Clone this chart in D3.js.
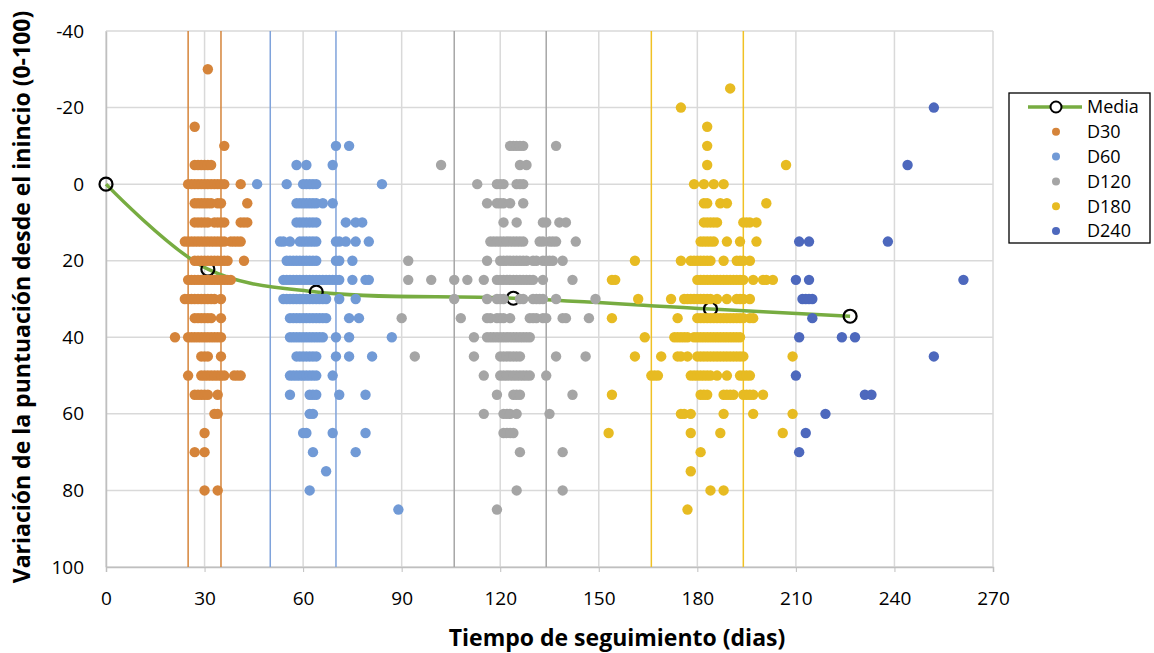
<!DOCTYPE html>
<html><head><meta charset="utf-8">
<script src="https://cdn.jsdelivr.net/npm/d3@7"></script>
<style>body{margin:0;background:#fff}svg{display:block}</style>
</head><body>
<svg id="c" width="1154" height="653"></svg>
<script>
// ---- data ----
const xTicks = [0,30,60,90,120,150,180,210,240,270];
const yTicks = [-40,-20,0,20,40,60,80,100];
const seriesNames = ["D30","D60","D120","D180","D240"];
const mediaDays = [0,31,64,124,184,226.5];
const mediaValues = [0,22.2,28.2,29.8,32.6,34.5];
const windowD30 = [25,35];
const windowD60 = [50,70];
const windowD120 = [106,134];
const windowD180 = [166,194];
// rows: [value, [days...]]
const d30 = [
 [-30,[31]],[-15,[27]],[-10,[36]],[-5,[27,28,29,30,31,32]],
 [0,[25,26,27,28,29,30,31,32,33,34,35,36,41]],
 [5,[27,28,29,30,31,32,34,35,43]],
 [10,[27,28,29,30,31,33,34,35,36,41,42,43]],
 [15,[24,25,26,27,28,29,30,31,32,33,34,35,36,38,39,40,41]],
 [20,[27,28,29,30,31,32,33,34,35,36,37,42]],
 [25,[25,26,27,28,29,30,31,32,33,34,35,36,37,38]],
 [30,[24,25,26,27,28,29,30,31,32,33,35]],
 [35,[27,28,29,30,31,32,35]],
 [40,[21,25,26,27,28,29,30,31,32,33,34,35]],
 [45,[29,30,31,35]],
 [50,[25,29,30,31,32,33,34,35,36,39,40,41]],
 [55,[27,28,29,30,31,34]],
 [60,[33,34]],[65,[30]],[70,[27,30]],[80,[30,34]]
];
const d60 = [
 [-10,[70,74]],[-5,[58,61,69]],
 [0,[46,55,60,61,62,63,64,84]],
 [5,[58,59,60,61,62,63,64,66,69]],
 [10,[58,59,60,61,62,63,64,73,76,78]],
 [15,[53,54,56,59,60,61,62,63,64,70,71,73,76,80]],
 [20,[55,56,57,58,59,60,61,62,63,64,70,71,75]],
 [25,[54,55,56,57,58,59,60,61,62,63,64,65,66,67,68,69,70,71,75,79,80]],
 [30,[54,55,56,57,58,59,60,61,62,63,64,65,66,67,71,76]],
 [35,[56,57,58,59,60,61,62,63,64,65,66,67,74,77]],
 [40,[56,57,58,59,60,61,62,63,64,65,66,70,74,87]],
 [45,[58,59,60,61,62,63,64,70,74,81]],
 [50,[56,57,58,59,60,61,62,63,64,69]],
 [55,[56,62,63,64,71,79]],
 [60,[62,63]],[65,[60,61,69,79]],[70,[63,76]],[75,[67]],[80,[62]],[85,[89]]
];
const d120 = [
 [-10,[123,124,125,126,127,137]],[-5,[102,126,128]],
 [0,[113,119,120,121,125,126,127]],
 [5,[116,119,120,121,123,127]],
 [10,[121,125,133,134,138,140]],
 [15,[117,118,119,120,121,122,123,124,125,126,127,132,133,135,136,137,143]],
 [20,[92,116,120,121,122,123,124,125,126,127,128,130,131,133,134,135,136,139]],
 [25,[92,99,106,110,115,119,120,121,122,123,124,125,126,127,128,129,130,133,142]],
 [30,[106,116,119,120,121,126,127,130,131,132,133,137,149]],
 [35,[90,108,116,117,119,120,121,123,129,130,131,133,134,139,140,147]],
 [40,[112,116,117,118,119,120,121,122,123,124,125,126,127,128,129]],
 [45,[94,112,120,121,122,123,124,125,126,137,146]],
 [50,[115,120,121,122,123,124,125,126,127,128,129,134]],
 [55,[119,124,125,126,142]],
 [60,[115,121,122,123,125,135]],
 [65,[121,122,123,124]],
 [70,[126,139]],[80,[125,139]],[85,[119]]
];
const d180 = [
 [-25,[190]],[-20,[175]],[-15,[183]],[-10,[183]],[-5,[183,207]],
 [0,[179,182,185,188]],
 [5,[182,183,187,189,201]],
 [10,[182,183,184,185,186,194,195,196,198]],
 [15,[181,182,183,184,185,189,193,198]],
 [20,[161,175,178,179,180,181,182,183,184,188,192,193,194,196]],
 [25,[154,155,180,181,182,183,184,185,186,187,188,189,190,191,192,193,194,197,200,201,203]],
 [30,[162,172,176,177,178,179,180,181,182,183,184,186,189,192,193,194,196]],
 [35,[154,174,180,181,182,183,184,185,186,187,188,189,190,191,192,193,194,196,197]],
 [40,[164,173,174,175,176,177,179,180,181,182,183,184,185,186,187,188,189,190,191,192,193]],
 [45,[161,169,174,175,177,180,181,182,183,184,185,186,187,188,189,190,191,192,193,194,209]],
 [50,[166,167,168,178,179,180,181,182,183,184,186,189,193,194,195,196]],
 [55,[154,181,182,183,188,189,190,191,194,195,196,197,200]],
 [60,[175,176,178,188,197,209]],
 [65,[153,178,187,206]],
 [70,[181]],[75,[178]],[80,[184,188]],[85,[177]]
];
const d240 = [
 [-20,[252]],[-5,[244]],[15,[211,214,238]],[25,[210,214,261]],
 [30,[212,213,214,215]],[35,[215]],[40,[211,224,228]],[45,[252]],
 [50,[210]],[55,[231,233]],[60,[219]],[65,[213]],[70,[211]]
];
const seriesRows = [d30,d60,d120,d180,d240];
const seriesColors = ["#d5843a","#719ad6","#a5a5a5","#e7bb22","#4d68bd"];
const windowColors = ["#d5843a","#7fa3db","#a6a6a6","#f0c124"];
const windows = [windowD30,windowD60,windowD120,windowD180];

// ---- layout ----
const svg = d3.select("#c");
const L=106, R=993, T=31, B=567;
const x = d3.scaleLinear().domain([0,270]).range([L,R]);
const y = d3.scaleLinear().domain([-40,100]).range([T,B]);
const font = "'Open Sans', 'Liberation Sans', sans-serif";

// grid
svg.append("g").selectAll("line").data(xTicks).join("line")
 .attr("x1",d=>x(d)).attr("x2",d=>x(d)).attr("y1",T).attr("y2",B)
 .attr("stroke","#d9d9d9").attr("stroke-width",1.5);
svg.append("g").selectAll("line").data(yTicks).join("line")
 .attr("x1",L).attr("x2",R).attr("y1",d=>y(d)).attr("y2",d=>y(d))
 .attr("stroke","#d9d9d9").attr("stroke-width",1.5);

// axes
const fmt = d=>String(d);
const xAxis = svg.append("g").attr("transform",`translate(0,${B})`)
 .call(d3.axisBottom(x).tickValues(xTicks).tickFormat(fmt).tickSize(5).tickPadding(20));
const yAxis = svg.append("g").attr("transform",`translate(${L},0)`)
 .call(d3.axisLeft(y).tickValues(yTicks).tickFormat(fmt).tickSize(0).tickPadding(22));
[xAxis,yAxis].forEach(a=>{
 a.select(".domain").attr("stroke","#bfbfbf").attr("stroke-width",1.5);
 a.selectAll(".tick line").attr("stroke","#bfbfbf");
 a.selectAll("text").attr("font-family",font).attr("font-size",19).attr("fill","#000");
});

// window lines
windows.forEach((w,i)=>{
 svg.append("g").selectAll("line").data(w).join("line")
  .attr("x1",d=>x(d)).attr("x2",d=>x(d)).attr("y1",T).attr("y2",B)
  .attr("stroke",windowColors[i]).attr("stroke-width",1.5);
});

// media line
const mediaPts = mediaDays.map((d,i)=>[d,mediaValues[i]]);
svg.append("path").datum(mediaPts)
 .attr("d",d3.line().x(d=>x(d[0])).y(d=>y(d[1])).curve(d3.curveCatmullRom.alpha(0.5)))
 .attr("fill","none").attr("stroke","#77ac41").attr("stroke-width",3.5);
svg.append("g").selectAll("circle").data(mediaPts).join("circle")
 .attr("cx",d=>x(d[0])).attr("cy",d=>y(d[1])).attr("r",6.5)
 .attr("fill","none").attr("stroke","#000").attr("stroke-width",2.2);

// scatter
seriesRows.forEach((rows,i)=>{
 const pts = rows.flatMap(([v,days])=>days.map(d=>[d,v]));
 svg.append("g").selectAll("circle").data(pts).join("circle")
  .attr("cx",d=>x(d[0])).attr("cy",d=>y(d[1])).attr("r",5.2)
  .attr("fill",seriesColors[i]);
});

// axis titles
svg.append("text").attr("x",617).attr("y",646).attr("text-anchor","middle")
 .attr("font-family",font).attr("font-weight","bold").attr("font-size",23)
 .text("Tiempo de seguimiento (dias)");
svg.append("text").attr("transform",`translate(30,297) rotate(-90)`).attr("text-anchor","middle")
 .attr("font-family",font).attr("font-weight","bold").attr("font-size",23)
 .text("Variación de la puntuación desde el inincio (0-100)");

// legend
const lg = svg.append("g").attr("transform","translate(1009,93)");
lg.append("rect").attr("width",141).attr("height",150).attr("fill","#fff").attr("stroke","#000").attr("stroke-width",1.3);
const legendItems = ["Media",...seriesNames];
legendItems.forEach((n,i)=>{
 const cy = 14 + i*24.8;
 if(i===0){
  lg.append("line").attr("x1",19).attr("x2",73).attr("y1",cy).attr("y2",cy).attr("stroke","#77ac41").attr("stroke-width",3.5);
  lg.append("circle").attr("cx",47).attr("cy",cy).attr("r",5.5).attr("fill","#fff").attr("stroke","#000").attr("stroke-width",2);
 } else {
  lg.append("circle").attr("cx",47).attr("cy",cy).attr("r",4).attr("fill",seriesColors[i-1]);
 }
 lg.append("text").attr("x",78).attr("y",cy).attr("dy","0.35em")
  .attr("font-family",font).attr("font-size",18).text(n);
});
</script>
</body></html>
